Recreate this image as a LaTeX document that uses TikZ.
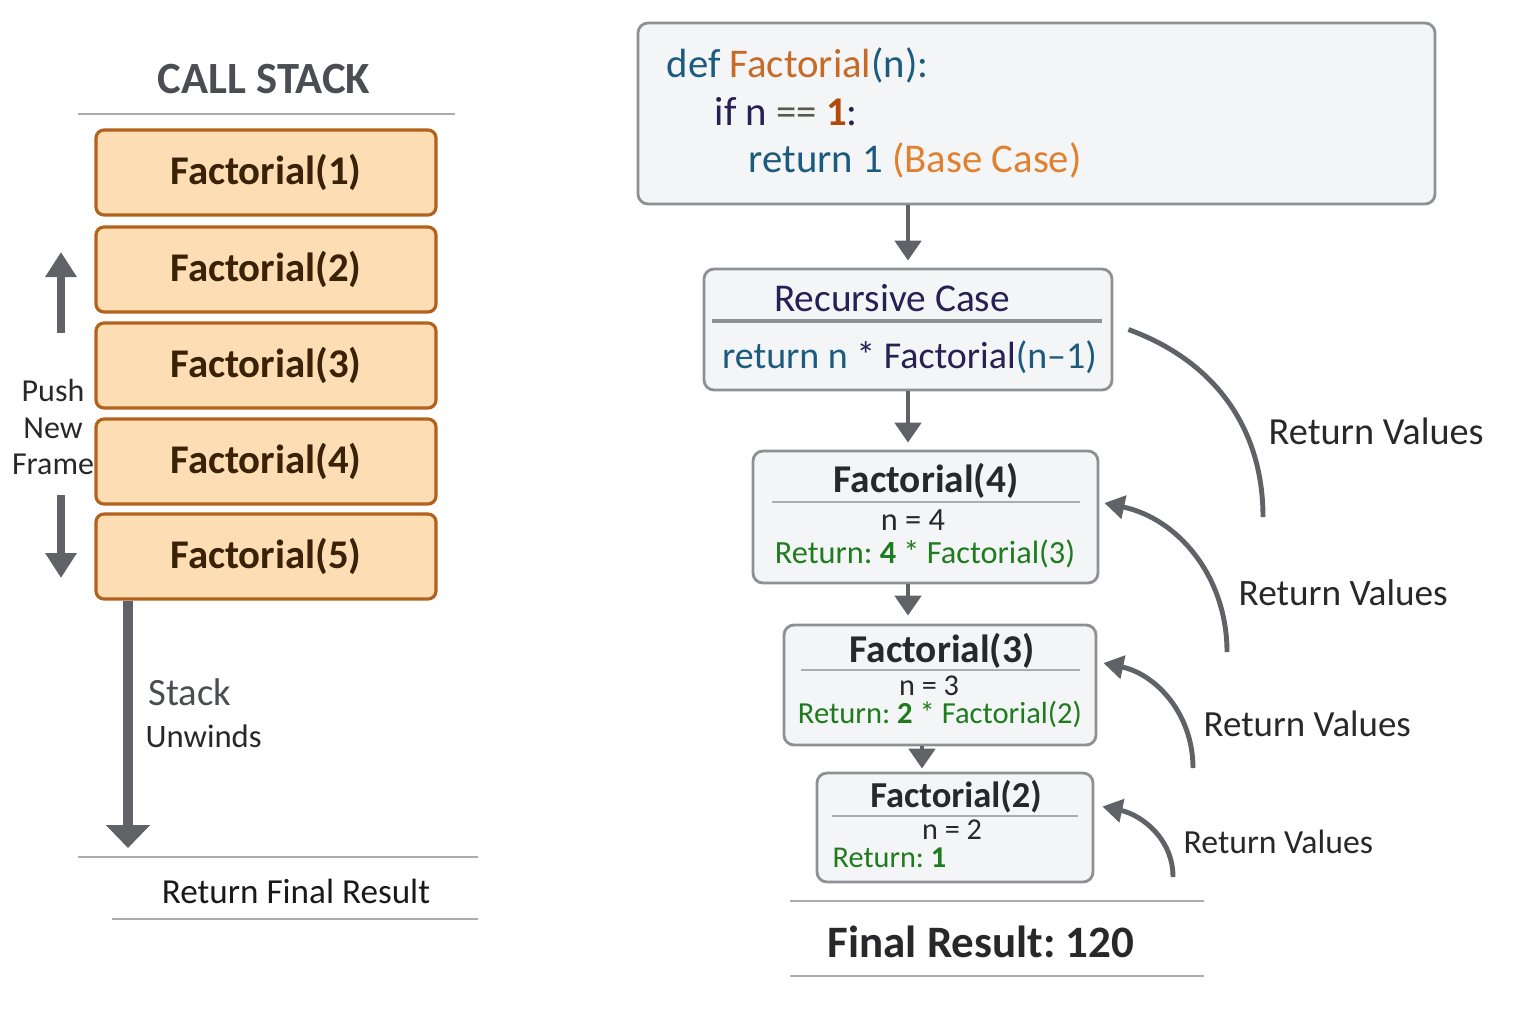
\documentclass[tikz,border=0pt]{standalone}
\usepackage{fontspec}
\setmainfont{Carlito}
\usetikzlibrary{arrows.meta}
\frenchspacing

\definecolor{stackfill}{RGB}{253,221,179}
\definecolor{stackline}{RGB}{178,98,28}
\definecolor{stacktext}{RGB}{58,34,8}
\definecolor{boxfill}{RGB}{244,245,246}
\definecolor{boxline}{RGB}{142,144,147}
\definecolor{arrowgray}{RGB}{95,98,102}
\definecolor{rulegray}{RGB}{170,172,175}
\definecolor{titlegray}{RGB}{74,77,82}
\definecolor{codeteal}{RGB}{29,91,126}
\definecolor{codeorange}{RGB}{198,106,40}
\definecolor{codelight}{RGB}{224,129,47}
\definecolor{codenavy}{RGB}{40,32,84}
\definecolor{codeone}{RGB}{178,74,12}
\definecolor{eqgray}{RGB}{90,90,74}
\definecolor{retgreen}{RGB}{30,123,30}
\definecolor{inkgray}{RGB}{40,40,42}

\newcommand{\setfs}[1]{\fontsize{#1}{#1}\selectfont}

\begin{document}
\begin{tikzpicture}[
            stack box/.style={draw=stackline, line width=0.9pt, fill=stackfill,
               rounded corners=0.8mm, minimum width=3.4cm, minimum height=0.85cm,
               text=stacktext, font=\setfs{11.6}\bfseries},
            call box/.style={draw=boxline, line width=0.8pt, fill=boxfill, rounded corners=1mm},
            rule/.style={rulegray, line width=0.6pt},
            flow/.style={arrowgray, line width=1.4pt, -{Triangle[width=2.6mm, length=2mm]}},
            push/.style={arrowgray, line width=2pt, -{Triangle[width=3mm, length=2.5mm]}},
            back/.style={arrowgray, line width=1.4pt, -{Triangle[width=2.3mm, length=2mm]}},
            code line/.style={anchor=base west, inner sep=0pt, font=\setfs{11.6}},
            head text/.style={anchor=base, inner sep=0pt, text=inkgray, font=\setfs{11.2}\bfseries},
            val text/.style={anchor=base, inner sep=0pt, text=inkgray, font=\setfs{9.2}},
            ret text/.style={anchor=base, inner sep=0pt, text=retgreen, font=\setfs{9.2}},
            label text/.style={anchor=base west, inner sep=0pt, text=inkgray, font=\setfs{10.6}}
         ]
      \useasboundingbox (0,0) rectangle (15.36,-10.24);

      % call stack
      \node[anchor=base, inner sep=0pt, text=titlegray, font=\setfs{12.7}\bfseries] (title) at (2.64,-0.93) {CALL STACK};
      \draw[rule] (0.78,-1.14) -- (4.55,-1.14);

      \node[stack box] (s1) at (2.66,-1.725) {Factorial(1)};
      \node[stack box] (s2) at (2.66,-2.695) {Factorial(2)};
      \node[stack box] (s3) at (2.66,-3.655) {Factorial(3)};
      \node[stack box] (s4) at (2.66,-4.615) {Factorial(4)};
      \node[stack box] (s5) at (2.66,-5.565) {Factorial(5)};

      \node[align=center, inner sep=0pt, text=inkgray, font=\fontsize{9.1}{10.4}\selectfont] (pushlbl) at (0.53,-4.27) {Push\\New\\Frame};
      \coordinate (upfrom) at (0.61,-3.33);
      \coordinate (upto) at (0.61,-2.52);
      \coordinate (dnfrom) at (0.61,-4.95);
      \coordinate (dnto) at (0.61,-5.78);
      \draw[push] (upfrom) -- (upto);
      \draw[push] (dnfrom) -- (dnto);

      \coordinate (unwind) at (1.28,-8.48);
      \draw[arrowgray, line width=3pt, -{Triangle[width=4.3mm, length=2.3mm]}] (s5.south -| unwind) -- (unwind);
      \node[anchor=base west, inner sep=0pt, text=titlegray, font=\setfs{11}] (stacklbl) at (1.48,-7.05) {Stack};
      \node[anchor=base west, inner sep=0pt, text=inkgray, font=\setfs{9.3}] (unwlbl) at (1.45,-7.47) {Unwinds};

      \draw[rule] (0.78,-8.57) -- (4.78,-8.57);
      \node[anchor=base, inner sep=0pt, text=black!90, font=\setfs{10}] (final) at (2.96,-9.03) {Return Final Result};
      \draw[rule] (1.12,-9.19) -- (4.78,-9.19);

      % code and frames
      \node[call box, minimum width=7.97cm, minimum height=1.81cm] (code) at (10.365,-1.135) {};
      \node[code line] (l1) at (6.66,-0.77) {\color{codeteal}def \color{codeorange}Factorial\color{codeteal}(n):};
      \node[code line] (l2) at (7.14,-1.25) {\color{codenavy}if n \color{eqgray}== \color{codeone}\textbf{1}\color{codenavy}:};
      \node[code line] (l3) at (7.48,-1.72) {\color{codeteal}return 1 \color{codelight}(Base Case)};

      \node[call box, minimum width=4.08cm, minimum height=1.21cm] (rec) at (9.08,-3.295) {};
      \node[anchor=base, inner sep=0pt, text=codenavy, font=\setfs{11.2}] (rechead) at (8.92,-3.11) {Recursive Case};
      \draw[boxline, line width=0.9pt] (7.12,-3.21) -- (11.02,-3.21);
      \node[anchor=base, inner sep=0pt, font=\setfs{10.8}] (recbody) at (9.095,-3.68) {\color{codeteal}return n \color{codenavy}* Factorial\color{codeteal}(n–1)};

      \node[call box, minimum width=3.45cm, minimum height=1.32cm] (f4) at (9.255,-5.17) {};
      \node[head text] (f4head) at (9.26,-4.92) {Factorial(4)};
      \draw[rule] (7.72,-5.02) -- (10.80,-5.02);
      \node[val text] (f4n) at (9.13,-5.30) {n = 4};
      \node[ret text] (f4ret) at (9.25,-5.63) {Return: \textbf{4} * Factorial(3)};

      \node[call box, minimum width=3.12cm, minimum height=1.2cm] (f3) at (9.40,-6.85) {};
      \node[head text] (f3head) at (9.42,-6.62) {Factorial(3)};
      \draw[rule] (8.01,-6.70) -- (10.80,-6.70);
      \node[val text, font=\setfs{8.6}] (f3n) at (9.29,-6.95) {n = 3};
      \node[ret text, font=\setfs{8.7}] (f3ret) at (9.40,-7.23) {Return: \textbf{2} * Factorial(2)};

      \node[call box, minimum width=2.76cm, minimum height=1.09cm] (f2) at (9.55,-8.275) {};
      \node[head text, font=\setfs{10.4}\bfseries] (f2head) at (9.56,-8.07) {Factorial(2)};
      \draw[rule] (8.32,-8.16) -- (10.78,-8.16);
      \node[val text, font=\setfs{8.6}] (f2n) at (9.52,-8.39) {n = 2};
      \node[ret text, anchor=base west, font=\setfs{8.6}] (f2ret) at (8.32,-8.67) {Return: \textbf{1}};

      \draw[rule] (7.90,-9.01) -- (12.04,-9.01);
      \node[anchor=base, inner sep=0pt, text=inkgray, font=\setfs{12.8}\bfseries] (result) at (9.81,-9.57) {Final Result: 120};
      \draw[rule] (7.90,-9.76) -- (12.04,-9.76);

      \draw[flow, shorten >=0.07cm] (code.south -| rec.north) -- (rec.north);
      \draw[flow, shorten >=0.07cm] (rec.south) -- (rec.south |- f4.north);
      \draw[flow, shorten >=0.08cm] (rec.south |- f4.south) -- (rec.south |- f3.north);
      \draw[flow, shorten >=0.03cm] ([xshift=-1.8mm]f3.south) -- ([xshift=-1.8mm]f3.south |- f2.north);

      % returning values
      \coordinate (r1) at (12.63,-5.17);
      \coordinate (r2) at (12.27,-6.52);
      \coordinate (r3) at (11.93,-7.68);
      \coordinate (r4) at (11.73,-8.77);
      \draw[arrowgray, line width=1.4pt] ([xshift=1.5mm]rec.east) to[out=-20, in=90] (r1);
      \draw[back] (r2) to[out=90, in=-12] ([xshift=0.5mm, yshift=1.4mm]f4.east);
      \draw[back] (r3) to[out=90, in=-12] ([xshift=0.6mm, yshift=2.2mm]f3.east);
      \draw[back] (r4) to[out=90, in=-12] ([xshift=0.8mm, yshift=2.1mm]f2.east);

      \node[label text, font=\setfs{10.9}] (v1) at (12.68,-4.44) {Return Values};
      \node[label text] (v2) at (12.38,-6.05) {Return Values};
      \node[label text, font=\setfs{10.5}] (v3) at (12.03,-7.36) {Return Values};
      \node[label text, font=\setfs{9.6}] (v4) at (11.83,-8.53) {Return Values};
   \end{tikzpicture}
\end{document}
